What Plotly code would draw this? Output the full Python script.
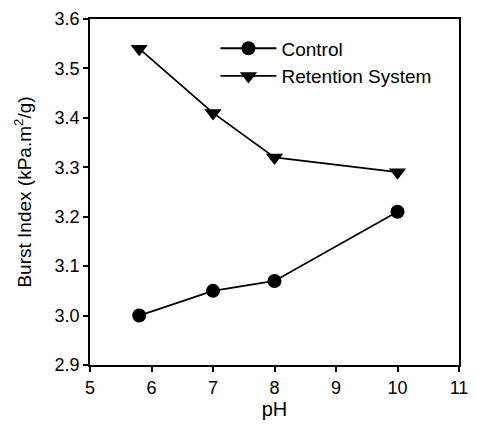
import plotly.graph_objects as go

ph = [5.8, 7, 8, 10]
control = [3.00, 3.05, 3.07, 3.21]
retention = [3.54, 3.41, 3.32, 3.29]
x_ticks = [5, 6, 7, 8, 9, 10, 11]
y_ticks = [2.9, 3.0, 3.1, 3.2, 3.3, 3.4, 3.5, 3.6]

fig = go.Figure()
fig.add_trace(go.Scatter(x=ph, y=control, mode="lines+markers", name="Control",
                         line=dict(color="black", width=1.8),
                         marker=dict(symbol="circle", size=14, color="black")))
fig.add_trace(go.Scatter(x=ph, y=retention, mode="lines+markers", name="Retention System",
                         line=dict(color="black", width=1.8),
                         marker=dict(symbol="triangle-down", size=15, color="black")))

axis_common = dict(showline=True, linecolor="black", linewidth=1.8, mirror=True,
                   ticks="outside", ticklen=5, tickwidth=1.5, tickcolor="black",
                   showgrid=False, zeroline=False,
                   tickfont=dict(family="Liberation Sans, Arial", size=18, color="black"))

fig.update_layout(
    width=477, height=427,
    margin=dict(l=90, r=9, t=18, b=62),
    paper_bgcolor="white", plot_bgcolor="white",
    font=dict(family="Liberation Sans, Arial", color="black"),
    xaxis=dict(range=[5, 11], tickvals=x_ticks, ticktext=[str(v) for v in x_ticks],
               title=dict(text="pH", font=dict(size=20), standoff=3), **axis_common),
    yaxis=dict(range=[2.9, 3.6], tickvals=y_ticks, ticktext=[f"{v:.1f}" for v in y_ticks],
               title=dict(text="Burst Index (kPa.m<sup>2</sup>/g)", font=dict(size=19), standoff=18),
               **axis_common),
    legend=dict(x=0.34, y=0.97, xanchor="left", yanchor="top",
                bgcolor="rgba(0,0,0,0)", font=dict(size=19), tracegroupgap=0,
                itemwidth=56),
    showlegend=True,
)

fig.write_html("out.html")
